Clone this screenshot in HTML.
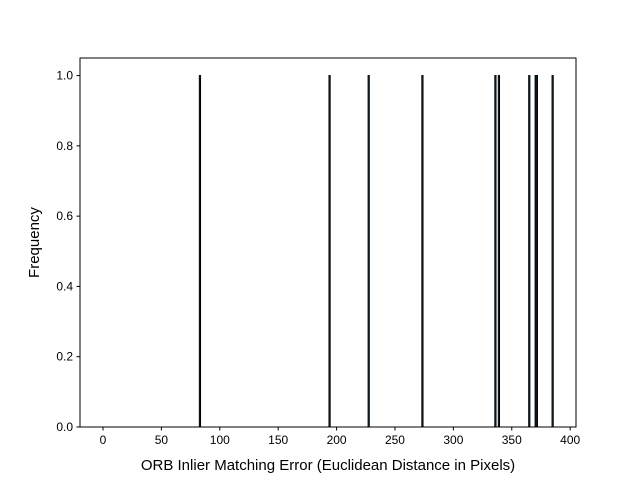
<!DOCTYPE html>
<html><head><meta charset="utf-8"><style>body{margin:0;background:#fff}svg{display:block}text{font-family:"Liberation Sans","DejaVu Sans",sans-serif}</style></head>
<body>
<svg id="c" width="640" height="480" xmlns="http://www.w3.org/2000/svg"></svg>
<script>
const errors = [83, 194, 227.5, 273.5, 336, 339, 365, 370.5, 371.5, 385];
const freqs = [1, 1, 1, 1, 1, 1, 1, 1, 1, 1];
const xTicks = [0, 50, 100, 150, 200, 250, 300, 350, 400];
const yTicks = [0.0, 0.2, 0.4, 0.6, 0.8, 1.0];
const NS = "http://www.w3.org/2000/svg";
const svg = document.getElementById('c');
const L = 80, R = 576, T = 58, B = 427;
const xmin = -19.7, xmax = 405, ymin = 0, ymax = 1.05;
const xs = v => L + (v - xmin) / (xmax - xmin) * (R - L);
const ys = v => B - (v - ymin) / (ymax - ymin) * (B - T);
function mk(tag, attrs, txt) { const e = document.createElementNS(NS, tag); for (const k in attrs) e.setAttribute(k, attrs[k]); if (txt != null) e.textContent = txt; svg.appendChild(e); return e; }
errors.forEach((v, i) => {
  const b = mk('rect', {x: xs(v) - 0.6, y: ys(freqs[i]), width: 1.2, height: ys(0) - ys(freqs[i]), fill: '#1f77b4', stroke: '#000', 'stroke-width': 1});
  
  
});
const ax = mk('rect', {x: L, y: T, width: R - L, height: B - T, fill: 'none', stroke: '#000', 'stroke-width': 1});


xTicks.forEach(t => {
  const x = xs(t);
  mk('line', {x1: x, x2: x, y1: B, y2: B + 3.5, stroke: '#000'});
  const lb = mk('text', {x: x, y: B + 17, 'font-size': 12, 'text-anchor': 'middle'}, String(t));
  
  
});
yTicks.forEach(t => {
  const y = ys(t);
  mk('line', {x1: L - 3.5, x2: L, y1: y, y2: y, stroke: '#000'});
  const lb = mk('text', {x: L - 7, y: y + 4, 'font-size': 12, 'text-anchor': 'end'}, t.toFixed(1));
  
  
});
const xt = mk('text', {x: (L + R) / 2, y: 470, 'font-size': 15, 'text-anchor': 'middle'}, 'ORB Inlier Matching Error (Euclidean Distance in Pixels)');


const yt = mk('text', {x: 39, y: (T + B) / 2, 'font-size': 15, 'text-anchor': 'middle', transform: `rotate(-90 39 ${(T + B) / 2})`}, 'Frequency');


</script>
</body></html>
